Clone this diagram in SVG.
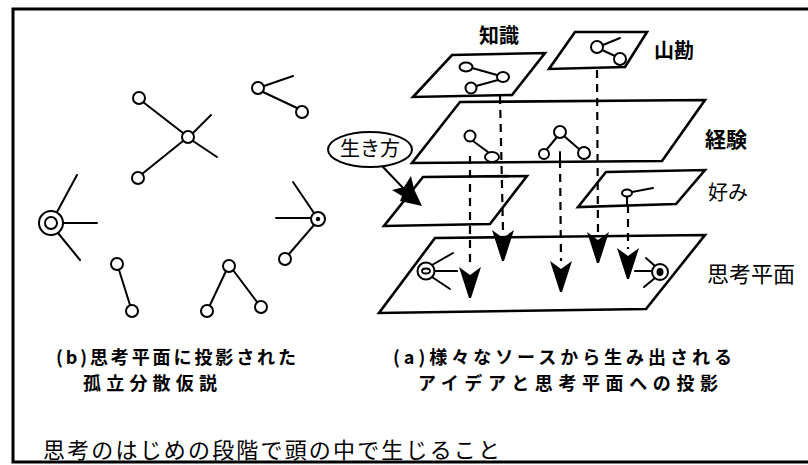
<svg xmlns="http://www.w3.org/2000/svg" xmlns:xlink="http://www.w3.org/1999/xlink" width="808" height="465" viewBox="0 0 808 465">
<style>
.ln{stroke:#000;stroke-width:2;fill:none;stroke-linecap:round}
.pl{fill:none;stroke:#000;stroke-width:2.6;stroke-linejoin:miter}
.nd{fill:#fff;stroke:#000;stroke-width:2}
.ds{stroke:#000;stroke-width:2.2;stroke-dasharray:8 6;fill:none}
.t{font-family:"Noto Sans CJK JP","Noto Sans CJK SC",sans-serif;fill:#000}
.b{font-weight:bold}
</style>
<defs>
<path id="ah" d="M-11,0 L0,8 L11,0 L1,31 L-1,31 Z" fill="#000"/>
</defs>
<rect x="0" y="0" width="808" height="465" fill="#fff"/>
<path d="M810,9 H13 V462 H810" fill="none" stroke="#000" stroke-width="3"/>

<!-- left diagram: isolated distributed hypothesis -->
<g id="cluster-x">
<line class="ln" x1="143" y1="102" x2="183" y2="133"/>
<line class="ln" x1="142" y1="174" x2="183" y2="141"/>
<line class="ln" x1="193" y1="133" x2="211" y2="115"/>
<line class="ln" x1="193" y1="141" x2="217" y2="157"/>
<circle class="nd" cx="188" cy="137" r="6"/>
<circle class="nd" cx="139" cy="98" r="6"/>
<circle class="nd" cx="138" cy="178" r="6"/>
</g>
<g id="cluster-tr">
<line class="ln" x1="264" y1="86" x2="293" y2="76"/>
<line class="ln" x1="263" y1="92" x2="297" y2="108"/>
<circle class="nd" cx="258" cy="88" r="6"/>
<circle class="nd" cx="302" cy="112" r="6"/>
</g>
<g id="cluster-left">
<line class="ln" x1="57" y1="212" x2="77" y2="175"/>
<line class="ln" x1="63" y1="223" x2="97" y2="223" stroke-width="3"/>
<line class="ln" x1="58" y1="233" x2="80" y2="260"/>
<circle class="nd" cx="51" cy="223" r="12"/>
<circle class="nd" cx="51" cy="223" r="6"/>
</g>
<g id="cluster-right">
<line class="ln" x1="293" y1="182" x2="314" y2="213"/>
<line class="ln" x1="276" y1="218" x2="311" y2="218"/>
<line class="ln" x1="314" y1="225" x2="289" y2="254"/>
<circle class="nd" cx="318" cy="219" r="7"/>
<circle cx="318" cy="219" r="2.2" fill="#000"/>
<circle class="nd" cx="285" cy="259" r="6"/>
</g>
<g id="cluster-pair">
<line class="ln" x1="119" y1="270" x2="130" y2="305"/>
<circle class="nd" cx="117" cy="264" r="6"/>
<circle class="nd" cx="132" cy="311" r="6"/>
</g>
<g id="cluster-a">
<line class="ln" x1="226" y1="271" x2="210" y2="305"/>
<line class="ln" x1="233" y1="270" x2="257" y2="302"/>
<circle class="nd" cx="229" cy="266" r="6"/>
<circle class="nd" cx="207" cy="311" r="6"/>
<circle class="nd" cx="261" cy="307" r="6"/>
</g>

<!-- right diagram: planes -->
<g id="plane-chishiki">
<polygon class="pl" points="452,55 545,53 512,95 413,97"/>
<line class="ln" x1="472" y1="68" x2="497" y2="75"/>
<line class="ln" x1="476" y1="86" x2="498" y2="80"/>
<ellipse class="nd" cx="466" cy="67" rx="6.5" ry="4.5"/>
<ellipse class="nd" cx="503" cy="77" rx="6" ry="5"/>
<circle class="nd" cx="471" cy="88" r="5.5"/>
<text class="t b" x="479" y="43" font-size="20">知識</text>
</g>
<g id="plane-yamakan">
<polygon class="pl" points="575,32 647,32 625,67 549,69"/>
<line class="ln" x1="603" y1="45" x2="620" y2="38"/>
<line class="ln" x1="602" y1="50" x2="615" y2="56"/>
<circle class="nd" cx="597" cy="47" r="6"/>
<circle class="nd" cx="620" cy="59" r="6"/>
<text class="t b" x="654" y="58" font-size="20">山勘</text>
</g>
<g id="plane-keiken">
<polygon class="pl" points="460,102 705,100 662,161 412,163"/>
<line class="ln" x1="473" y1="141" x2="488" y2="152"/>
<circle class="nd" cx="470" cy="136" r="5.5"/>
<ellipse class="nd" cx="492" cy="157" rx="7" ry="5"/>
<line class="ln" x1="557" y1="137" x2="547" y2="149"/>
<line class="ln" x1="564" y1="136" x2="579" y2="149"/>
<line class="ln" x1="560" y1="152" x2="560" y2="160"/>
<circle class="nd" cx="560" cy="132" r="6"/>
<circle class="nd" cx="544" cy="154" r="5"/>
<circle class="nd" cx="584" cy="153" r="6"/>
<text class="t b" x="705" y="147" font-size="21">経験</text>
</g>
<g id="plane-ikikata">
<polygon class="pl" points="423,177 527,176 490,224 384,226"/>
</g>
<g id="plane-konomi">
<polygon class="pl" points="606,172 705,170 676,204 578,207"/>
<line class="ln" x1="632" y1="192" x2="653" y2="188"/>
<line class="ln" x1="627" y1="197" x2="627" y2="204"/>
<ellipse class="nd" cx="627" cy="193" rx="5" ry="3.5"/>
<text class="t" x="708" y="200" font-size="20">好み</text>
</g>
<g id="plane-shikou">
<polygon class="pl" points="435,238 705,235 646,309 379,313"/>
<line class="ln" x1="435" y1="271" x2="457" y2="271"/>
<line class="ln" x1="432" y1="265" x2="453" y2="253"/>
<line class="ln" x1="432" y1="277" x2="450" y2="289"/>
<circle class="nd" cx="426" cy="271" r="8.5"/>
<ellipse cx="426" cy="271" rx="4" ry="2.5" fill="#fff" stroke="#000" stroke-width="1.8"/>
<line class="ln" x1="635" y1="271" x2="653" y2="271"/>
<line class="ln" x1="655" y1="266" x2="646" y2="258"/>
<line class="ln" x1="655" y1="278" x2="644" y2="287"/>
<circle class="nd" cx="660" cy="272" r="8"/>
<ellipse cx="660" cy="272" rx="3.5" ry="4" fill="#000"/>
<text class="t" x="707" y="282" font-size="22">思考平面</text>
</g>
<g id="ikikata">
<ellipse cx="370" cy="149.5" rx="42" ry="17.5" fill="#fff" stroke="#000" stroke-width="2"/>
<text class="t" x="370" y="156" font-size="20" text-anchor="middle">生き方</text>
</g>

<!-- connectors -->
<g id="connectors">
<line class="ds" x1="470" y1="156" x2="470" y2="268"/>
<line class="ds" x1="500" y1="96" x2="503" y2="231"/>
<line class="ds" x1="560" y1="160" x2="561" y2="261"/>
<line class="ds" x1="597" y1="70" x2="598" y2="233"/>
<line class="ds" x1="628" y1="205" x2="628" y2="249"/>
<use xlink:href="#ah" x="470" y="267"/>
<use xlink:href="#ah" x="503" y="230"/>
<use xlink:href="#ah" x="561" y="261"/>
<use xlink:href="#ah" x="598" y="232"/>
<use xlink:href="#ah" x="628" y="248"/>
<line class="ln" x1="383" y1="167" x2="405" y2="190" stroke-width="2.5"/>
<polygon points="422,206 400,201 402,196 392,190 404,187 411,176 414,189" fill="#000"/>
</g>

<!-- captions -->
<g id="captions">
<text class="t b" x="56" y="364" font-size="18" textLength="240" lengthAdjust="spacing">(b)思考平面に投影された</text>
<text class="t b" x="83" y="390" font-size="18" textLength="134" lengthAdjust="spacing">孤立分散仮説</text>
<text class="t b" x="393" y="364" font-size="18" textLength="339" lengthAdjust="spacing">(a)様々なソースから生み出される</text>
<text class="t b" x="418" y="390" font-size="18" textLength="300" lengthAdjust="spacing">アイデアと思考平面への投影</text>
<text class="t" x="43" y="458" font-size="22" textLength="457" lengthAdjust="spacing">思考のはじめの段階で頭の中で生じること</text>
</g>
</svg>
